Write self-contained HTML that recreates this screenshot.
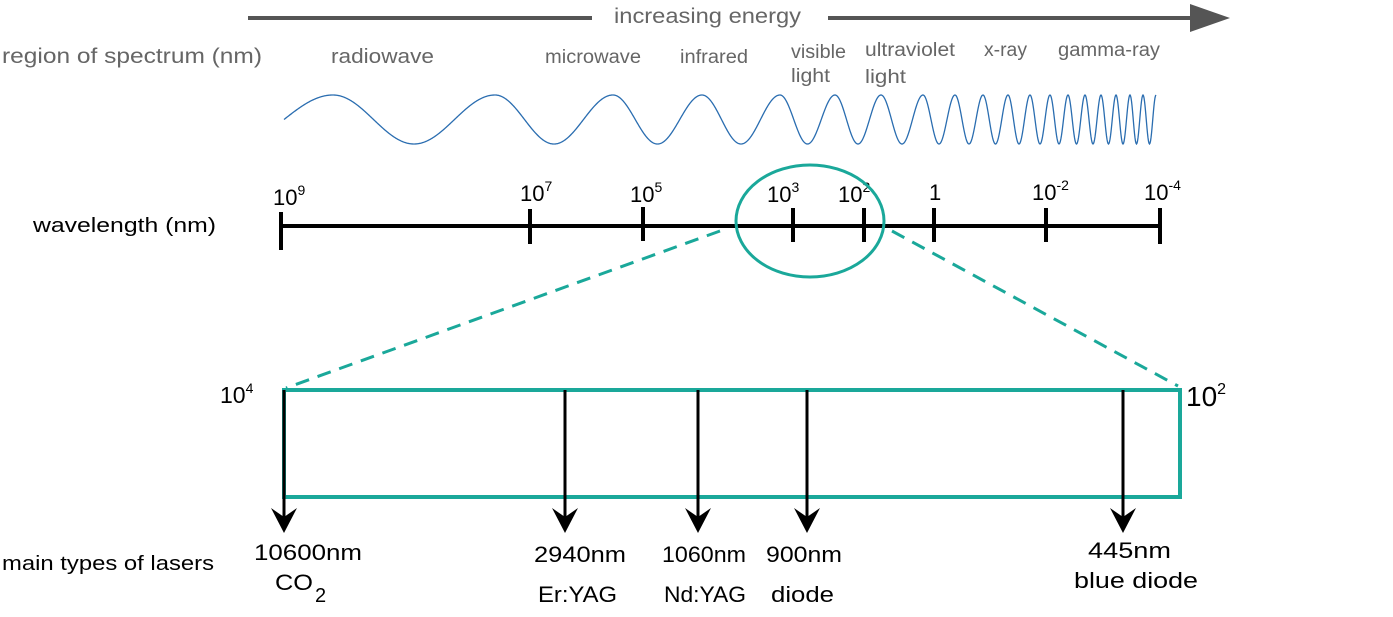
<!DOCTYPE html>
<html><head><meta charset="utf-8"><style>
body{margin:0;background:#fff}
svg text{font-family:"Liberation Sans",sans-serif}
</style></head><body>
<svg width="1393" height="612" xmlns="http://www.w3.org/2000/svg">
<line x1="248" y1="18" x2="592" y2="18" stroke="#555" stroke-width="4"/>
<line x1="828" y1="18" x2="1195" y2="18" stroke="#555" stroke-width="4"/>
<polygon points="1190,4 1230,18 1190,32" fill="#555"/>
<text x="614" y="23" font-size="21" fill="#666" textLength="187" lengthAdjust="spacingAndGlyphs">increasing energy</text>
<g font-size="19" fill="#666">
<text x="2" y="63" font-size="21" textLength="260" lengthAdjust="spacingAndGlyphs">region of spectrum (nm)</text>
<text x="331" y="63" font-size="20" textLength="103" lengthAdjust="spacingAndGlyphs">radiowave</text>
<text x="545" y="63" textLength="96" lengthAdjust="spacingAndGlyphs">microwave</text>
<text x="680" y="63" textLength="68" lengthAdjust="spacingAndGlyphs">infrared</text>
<text x="791" y="58" textLength="55" lengthAdjust="spacingAndGlyphs">visible</text>
<text x="791" y="82" textLength="39" lengthAdjust="spacingAndGlyphs">light</text>
<text x="865" y="56" textLength="90" lengthAdjust="spacingAndGlyphs">ultraviolet</text>
<text x="865" y="83" textLength="41" lengthAdjust="spacingAndGlyphs">light</text>
<text x="984" y="56" textLength="43" lengthAdjust="spacingAndGlyphs">x-ray</text>
<text x="1058" y="56" textLength="102" lengthAdjust="spacingAndGlyphs">gamma-ray</text>
</g>
<path id="wave" fill="none" stroke="#2a6db0" stroke-width="1.3" d=""/>
<line x1="281" y1="226" x2="1160" y2="226" stroke="#000" stroke-width="4"/>
<g stroke="#000" stroke-width="4">
<line x1="281" y1="212" x2="281" y2="250"/>
<line x1="530" y1="209" x2="530" y2="244"/>
<line x1="643" y1="207" x2="643" y2="241"/>
<line x1="793" y1="208" x2="793" y2="242"/>
<line x1="864" y1="208" x2="864" y2="242"/>
<line x1="934" y1="208" x2="934" y2="242"/>
<line x1="1046" y1="208" x2="1046" y2="242"/>
<line x1="1160" y1="208" x2="1160" y2="244"/>
</g>
<g font-size="22" fill="#000">
<text x="273" y="205">10<tspan font-size="14" dy="-10">9</tspan></text>
<text x="520" y="201">10<tspan font-size="14" dy="-10">7</tspan></text>
<text x="630" y="202">10<tspan font-size="14" dy="-10">5</tspan></text>
<text x="767" y="202">10<tspan font-size="14" dy="-10">3</tspan></text>
<text x="838" y="202">10<tspan font-size="14" dy="-10">2</tspan></text>
<text x="929" y="200">1</text>
<text x="1032" y="200">10<tspan font-size="14" dy="-10">-2</tspan></text>
<text x="1144" y="200">10<tspan font-size="14" dy="-10">-4</tspan></text>
<text x="33" y="232" font-size="20" textLength="183" lengthAdjust="spacingAndGlyphs">wavelength (nm)</text>
</g>
<ellipse cx="810" cy="221" rx="74" ry="56" fill="none" stroke="#1aa89a" stroke-width="3"/>
<line x1="720" y1="231" x2="286" y2="388" stroke="#1aa89a" stroke-width="3" stroke-dasharray="14,9"/>
<line x1="892" y1="231" x2="1178" y2="386" stroke="#1aa89a" stroke-width="3" stroke-dasharray="14,9"/>
<rect x="284" y="390" width="896" height="107" fill="none" stroke="#1aa89a" stroke-width="4"/>
<text x="220" y="403" font-size="23">10<tspan font-size="14" dy="-10">4</tspan></text>
<text x="1186" y="406" font-size="28">10<tspan font-size="16" dy="-12">2</tspan></text>
<g stroke="#000" stroke-width="3">
<line x1="284" y1="390" x2="284" y2="518"/>
<line x1="565" y1="390" x2="565" y2="518"/>
<line x1="698" y1="390" x2="698" y2="518"/>
<line x1="807" y1="390" x2="807" y2="518"/>
<line x1="1123" y1="390" x2="1123" y2="518"/>
</g>
<g fill="#000">
<polygon points="271,508 284,517 297,508 284,533"/>
<polygon points="552,508 565,517 578,508 565,533"/>
<polygon points="685,508 698,517 711,508 698,533"/>
<polygon points="794,508 807,517 820,508 807,533"/>
<polygon points="1110,508 1123,517 1136,508 1123,533"/>
</g>
<g font-size="22" fill="#000">
<text x="254" y="560" textLength="108" lengthAdjust="spacingAndGlyphs">10600nm</text>
<text x="275" y="590" textLength="38" lengthAdjust="spacingAndGlyphs">CO</text>
<text x="315" y="602" font-size="20">2</text>
<text x="534" y="562" textLength="92" lengthAdjust="spacingAndGlyphs">2940nm</text>
<text x="538" y="602" textLength="79" lengthAdjust="spacingAndGlyphs">Er:YAG</text>
<text x="662" y="562" textLength="84" lengthAdjust="spacingAndGlyphs">1060nm</text>
<text x="664" y="602" textLength="82" lengthAdjust="spacingAndGlyphs">Nd:YAG</text>
<text x="766" y="562" textLength="76" lengthAdjust="spacingAndGlyphs">900nm</text>
<text x="771" y="602" textLength="63" lengthAdjust="spacingAndGlyphs">diode</text>
<text x="1088" y="558" textLength="83" lengthAdjust="spacingAndGlyphs">445nm</text>
<text x="1074" y="588" textLength="124" lengthAdjust="spacingAndGlyphs">blue diode</text>
</g>
<text x="2" y="570" font-size="20" textLength="212" lengthAdjust="spacingAndGlyphs">main types of lasers</text>
</svg>
<script>
(function(){
var c=[284,333,495,613,702,780,835,881,923,955,983,1008,1030,1050,1068,1085,1101,1116,1130,1143,1156];
var ph=[-0.25];for(var i=1;i!==c.length;i++)ph.push(i-1);
function P(x){for(var i=0;i!==c.length-1;i++){if(!(x>c[i+1])){return ph[i]+(ph[i+1]-ph[i])*(x-c[i])/(c[i+1]-c[i]);}}return ph[ph.length-1];}
var d="";for(var x=284;!(x>1156);x+=0.5){var y=119.5-24.5*Math.cos(2*Math.PI*P(x));d+=(x===284?"M":"L")+x+","+y.toFixed(2);}
document.getElementById("wave").setAttribute("d",d);})();
</script>
</body></html>
